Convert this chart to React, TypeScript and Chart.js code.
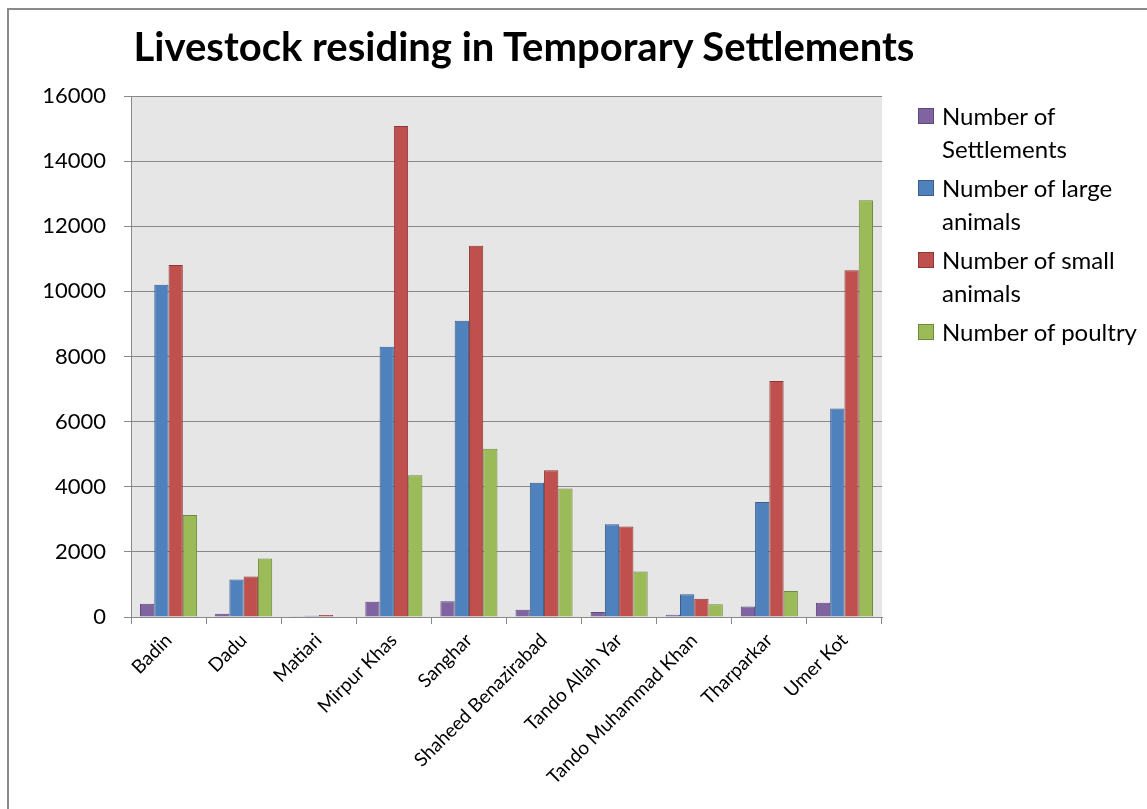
import React, { useEffect, useRef } from "react";
import { Chart, registerables } from "chart.js";

Chart.register(...registerables);

const chartTitle = "Livestock residing in Temporary Settlements";

const districts = [
  "Badin",
  "Dadu",
  "Matiari",
  "Mirpur Khas",
  "Sanghar",
  "Shaheed Benazirabad",
  "Tando Allah Yar",
  "Tando Muhammad Khan",
  "Tharparkar",
  "Umer Kot",
];

const seriesNames = [
  "Number of Settlements",
  "Number of large animals",
  "Number of small animals",
  "Number of poultry",
];

const settlements = [410, 100, 20, 470, 480, 220, 150, 70, 320, 440];
const largeAnimals = [10200, 1150, 35, 8300, 9100, 4120, 2850, 700, 3530, 6400];
const smallAnimals = [10810, 1240, 60, 15080, 11400, 4510, 2780, 560, 7250, 10650];
const poultry = [3130, 1800, 0, 4350, 5170, 3950, 1400, 390, 800, 12800];

const fills = ["#8064A2", "#4F81BD", "#C0504D", "#9BBB59"];
const borders = ["#5F497A", "#385D8A", "#8C3836", "#71893F"];

const yTicks = [0, 2000, 4000, 6000, 8000, 10000, 12000, 14000, 16000];

const FONT = "Lato, 'Open Sans', sans-serif";

const plotBg = {
  id: "plotBg",
  beforeDraw(chart: any) {
    const { ctx, chartArea } = chart;
    ctx.save();
    ctx.fillStyle = "#E6E6E6";
    ctx.fillRect(chartArea.left, chartArea.top, chartArea.right - chartArea.left, chartArea.bottom - chartArea.top);
    ctx.restore();
  },
};

export default function App() {
  const canvasRef = useRef<HTMLCanvasElement | null>(null);

  useEffect(() => {
    if (!canvasRef.current) return;
    const allSeries = [settlements, largeAnimals, smallAnimals, poultry];
    const chart = new Chart(canvasRef.current, {
      type: "bar",
      data: {
        labels: districts,
        datasets: allSeries.map((d, i) => ({
          label: seriesNames[i],
          data: d,
          backgroundColor: fills[i],
          borderColor: borders[i],
          borderWidth: 1,
          categoryPercentage: 0.76,
          barPercentage: 1.0,
        })),
      },
      options: {
        responsive: false,
        animation: false,
        devicePixelRatio: 1,
        layout: { padding: { top: 96, right: 265, bottom: 0, left: 0 } },
        plugins: {
          legend: { display: false },
          title: { display: false },
          tooltip: { enabled: false },
        },
        scales: {
          x: {
            grid: {
              display: true,
              drawOnChartArea: false,
              drawTicks: true,
              tickLength: 7,
              color: "#888888",
              offset: true,
            },
            border: { display: true, color: "#888888", width: 1 },
            ticks: {
              maxRotation: 45,
              minRotation: 45,
              autoSkip: false,
              padding: 5,
              color: "#000000",
              font: { family: FONT, size: 19 },
            },
            afterFit(scale: any) {
              scale.height = 192;
            },
          },
          y: {
            min: 0,
            max: 16000,
            afterBuildTicks(scale: any) {
              scale.ticks = yTicks.map((v) => ({ value: v }));
            },
            grid: {
              color: "#888888",
              lineWidth: 1,
              tickLength: 7,
              drawTicks: true,
            },
            border: { display: true, color: "#888888", width: 1 },
            ticks: {
              padding: 18,
              color: "#000000",
              font: { family: FONT, size: 22 },
              callback: (v: any) => String(v),
            },
            afterFit(scale: any) {
              scale.width = 131;
            },
          },
        },
      },
      plugins: [plotBg],
    });
    return () => chart.destroy();
  }, []);

  return (
    <div
      style={{
        position: "absolute",
        left: 0,
        top: 0,
        width: 1147,
        height: 809,
        overflow: "hidden",
        background: "#ffffff",
        fontFamily: FONT,
      }}
    >
      <div
        style={{
          position: "absolute",
          left: 7,
          top: 8,
          width: 2000,
          height: 2000,
          border: "2px solid #8A8A8A",
          boxSizing: "border-box",
        }}
      />
      <canvas ref={canvasRef} width={1147} height={809} style={{ position: "absolute", left: 0, top: 0 }} />
      <div
        style={{
          position: "absolute",
          left: 524,
          top: 22,
          transform: "translateX(-50%)",
          whiteSpace: "nowrap",
          fontWeight: 700,
          fontSize: 40,
          lineHeight: "48px",
          color: "#000",
        }}
      >
        {chartTitle}
      </div>
      <div style={{ position: "absolute", left: 918, top: 99, width: 229 }}>
        {seriesNames.map((name, i) => (
          <div key={name} style={{ position: "relative", paddingLeft: 24, marginBottom: 6 }}>
            <div
              style={{
                position: "absolute",
                left: 0,
                top: 9,
                width: 14,
                height: 14,
                background: fills[i],
                border: `1px solid ${borders[i]}`,
              }}
            />
            <div style={{ fontSize: 24, lineHeight: "33px", color: "#000", maxWidth: 205 }}>{name}</div>
          </div>
        ))}
      </div>
    </div>
  );
}
